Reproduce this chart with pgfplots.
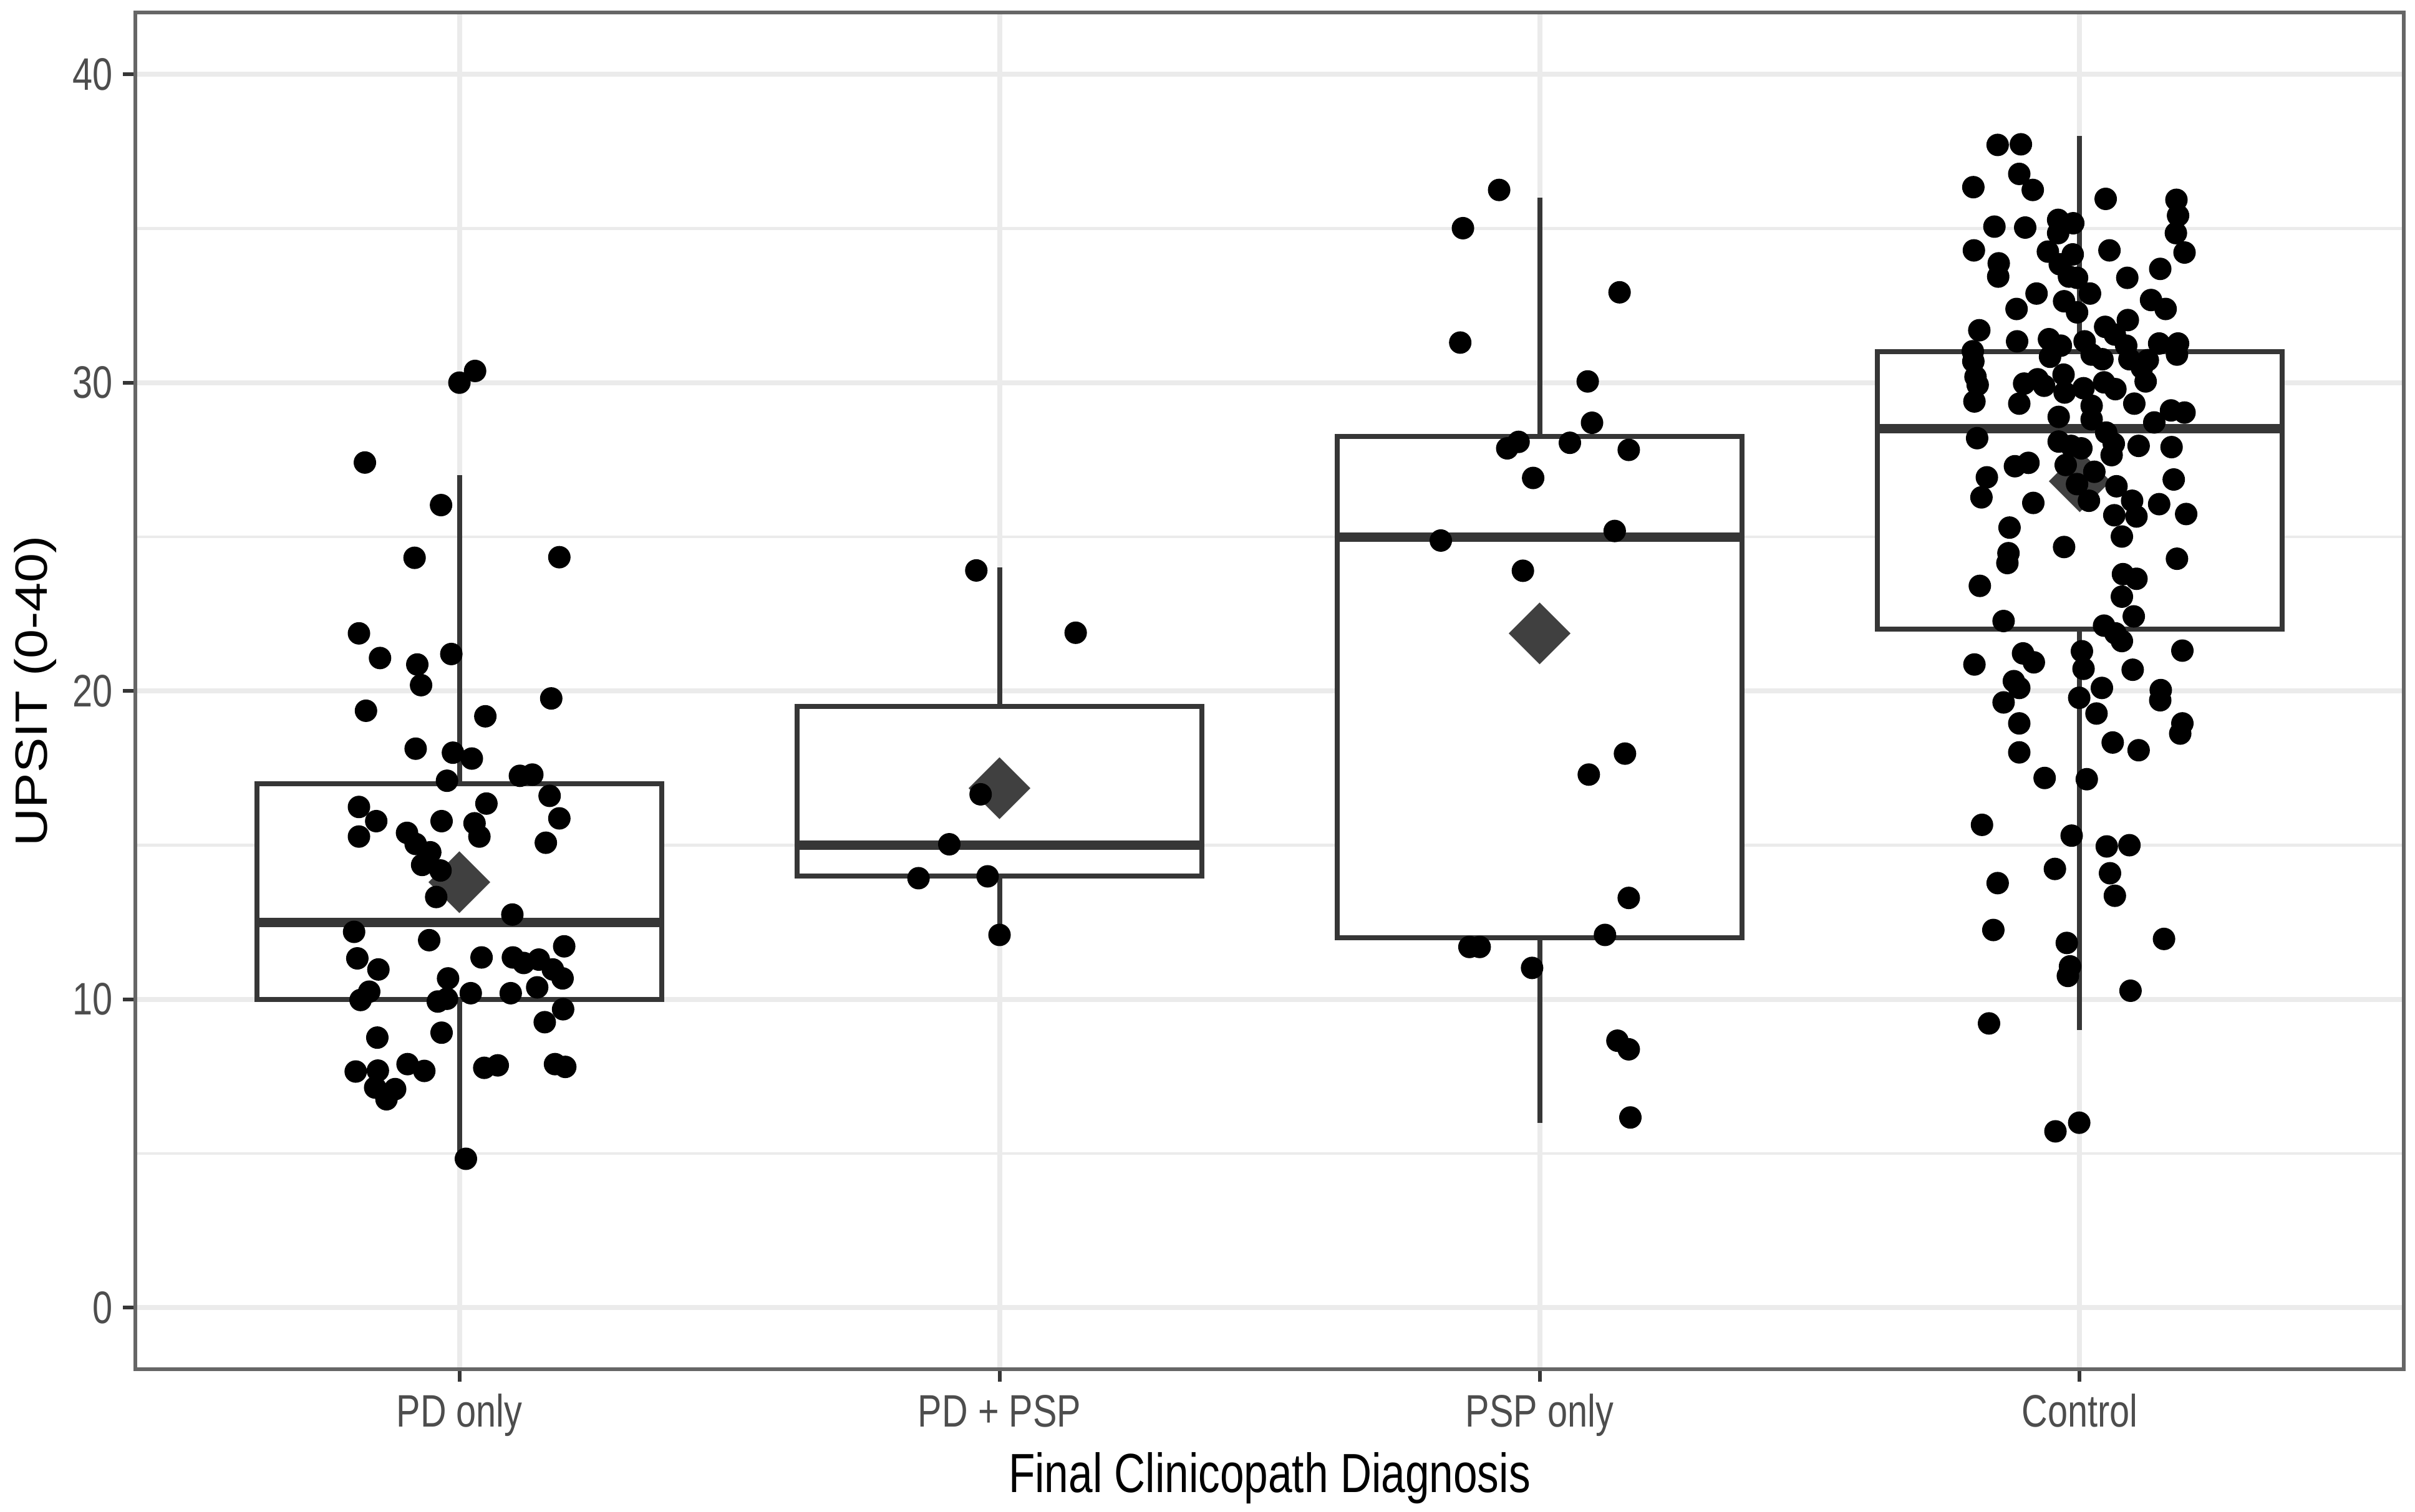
\documentclass[border=0pt]{standalone}
\usepackage{fontspec}
\setmainfont{Liberation Sans}
\newfontfamily\tickfont{Liberation Sans}[FakeStretch=0.79]
\newfontfamily\titlefont{Liberation Sans}[FakeStretch=0.785]
\usepackage{pgfplots}
\usepackage{pgfplotstable}
\pgfplotsset{compat=1.18}
\definecolor{gridc}{HTML}{EBEBEB}
\definecolor{borderc}{HTML}{666666}
\definecolor{boxc}{HTML}{363636}
\definecolor{tickc}{HTML}{4D4D4D}
\definecolor{meanc}{HTML}{404040}

\pgfplotstableread{
x y
1.029 30.38
1.000 30.00
0.825 27.41
0.966 26.03
0.917 24.32
1.185 24.34
0.814 21.87
0.853 21.07
0.922 20.86
0.929 20.19
0.985 21.20
0.827 19.36
1.170 19.76
1.048 19.18
0.919 18.13
0.988 18.00
1.023 17.81
0.977 17.09
1.112 17.25
1.135 17.29
1.167 16.60
1.185 15.87
1.160 15.08
0.814 16.24
0.846 15.78
0.814 15.28
0.903 15.40
0.919 15.04
0.946 14.77
0.931 14.36
0.965 14.18
0.957 13.32
0.967 15.78
1.050 16.35
1.028 15.71
1.037 15.28
1.098 12.75
0.805 12.19
0.944 11.92
0.811 11.33
0.850 10.97
1.041 11.36
1.099 11.36
1.119 11.18
1.147 11.29
1.173 10.97
1.194 11.72
1.191 10.68
1.144 10.39
0.979 10.68
1.021 10.20
1.095 10.20
0.817 9.98
0.833 10.25
0.960 9.93
0.977 10.02
1.192 9.68
1.158 9.26
0.848 8.76
0.967 8.92
0.808 7.66
0.849 7.69
0.904 7.90
0.935 7.68
0.844 7.14
0.881 7.09
0.865 6.76
1.046 7.78
1.071 7.86
1.177 7.90
1.196 7.81
1.012 4.83
}\pdonly

\pgfplotstableread{
x y
1.957 23.91
2.141 21.89
1.965 16.65
1.907 15.03
1.850 13.93
1.978 13.99
2.000 12.09
}\pdpsp

\pgfplotstableread{
x y
2.925 36.25
2.858 35.01
3.148 32.93
2.853 31.30
3.089 30.04
3.097 28.70
2.940 27.87
2.961 28.08
3.056 28.05
3.165 27.82
2.988 26.91
2.817 24.88
3.139 25.19
2.969 23.90
3.158 17.97
3.091 17.29
3.165 13.29
3.121 12.09
2.870 11.70
2.889 11.70
2.986 11.02
3.144 8.66
3.165 8.38
3.168 6.17
}\psponly

\pgfplotstableread{
x y
3.848 37.71
3.891 37.73
3.803 36.34
3.888 36.77
3.913 36.25
4.048 35.96
4.179 35.93
4.182 35.42
4.178 34.85
4.194 34.22
3.842 35.06
3.899 35.03
3.960 35.28
3.988 35.17
3.960 34.85
3.804 34.29
4.055 34.29
3.941 34.25
3.963 33.84
3.987 34.16
3.980 33.44
3.995 33.40
3.850 33.87
3.849 33.44
4.149 33.69
4.088 33.40
3.920 32.89
4.019 32.89
3.971 32.64
3.995 32.28
4.132 32.68
4.159 32.39
3.883 32.39
4.089 32.03
4.047 31.81
4.065 31.56
3.814 31.70
3.884 31.34
3.943 31.41
3.965 31.20
3.945 30.84
3.802 31.02
3.803 30.69
4.009 31.34
4.022 30.91
4.042 30.76
4.086 31.20
4.092 30.76
4.115 30.48
4.147 31.27
4.182 31.27
4.180 30.91
4.126 30.73
4.122 30.04
3.807 30.19
3.811 29.93
3.805 29.39
3.897 29.97
3.922 30.11
3.934 29.90
3.888 29.32
3.970 30.26
3.972 29.68
4.007 29.82
4.022 29.25
4.022 28.81
4.045 30.01
4.066 29.79
4.101 29.32
3.961 28.89
4.169 29.10
4.194 29.03
4.138 28.71
3.810 28.20
3.961 28.09
3.984 27.95
4.003 27.87
4.049 28.38
4.063 28.02
4.109 27.95
4.170 27.91
4.059 27.65
3.880 27.29
3.905 27.40
3.828 26.93
3.818 26.28
3.914 26.10
3.974 27.33
3.995 26.71
4.027 27.11
4.017 26.17
4.068 26.64
4.097 26.17
4.105 25.66
4.174 26.86
4.147 26.06
4.197 25.74
4.064 25.70
3.870 25.30
4.078 25.01
3.971 24.67
3.868 24.47
3.866 24.15
4.180 24.29
4.080 23.79
4.105 23.64
4.078 23.06
3.815 23.41
4.100 22.42
3.859 22.27
4.045 22.12
4.066 21.87
4.078 21.62
4.190 21.31
3.805 20.86
3.895 21.22
3.915 20.93
4.004 21.29
4.007 20.72
4.098 20.69
3.878 20.32
3.888 20.10
4.041 20.10
4.150 20.03
4.149 19.70
3.859 19.63
3.999 19.78
4.031 19.27
3.888 18.95
4.190 18.95
4.186 18.62
4.061 18.33
4.109 18.08
3.888 18.01
3.935 17.18
4.013 17.14
3.819 15.66
3.985 15.31
4.050 14.96
4.092 15.00
3.954 14.23
4.056 14.09
3.848 13.77
4.065 13.36
3.840 12.25
4.156 11.96
3.976 11.83
3.982 11.07
3.978 10.76
4.094 10.28
3.832 9.22
3.999 6.00
3.955 5.72
}\control

\begin{document}
\begin{tikzpicture}
\useasboundingbox (0,0) rectangle (387.2pt,242.5pt);
\begin{axis}[
  at={(21.7pt,22.87pt)}, anchor=south west,
  scale only axis, width=363.7pt, height=217.6pt,
  xmin=0.4, xmax=4.6, ymin=-2, ymax=42,
  xtick={1,2,3,4},
  xticklabels={PD only, PD + PSP, PSP only, Control},
  ytick={0,10,20,30,40},
  minor ytick={5,15,25,35},
  grid=both,
  major grid style={line width=0.8pt, draw=gridc},
  minor grid style={line width=0.45pt, draw=gridc},
  axis line style={line width=0.6pt, draw=borderc},
  tick align=outside, tick pos=left,
  major tick length=2pt, minor tick length=0pt,
  major tick style={line width=0.6pt, draw=boxc},
  /pgf/number format/assume math mode=true,
  xticklabel style={font=\tickfont\fontsize{7.3}{8.8}\selectfont, text=tickc, anchor=base, inner sep=0pt, yshift=-7.2pt},
  yticklabel style={font=\tickfont\fontsize{7.3}{8.8}\selectfont, text=tickc, anchor=east, inner sep=0pt, xshift=-1.45pt},
  xlabel={Final Clinicopath Diagnosis},
  ylabel={UPSIT (0-40)},
  xlabel style={font=\titlefont\fontsize{8.84}{10.6}\selectfont, at={(axis description cs:0.5,-0.0905)}, anchor=base, inner sep=0pt},
  ylabel style={font=\fontsize{8.45}{10.1}\selectfont, at={(axis description cs:-0.0441,0.5)}, anchor=center, inner sep=0pt, yscale=0.86},
  boxdraw/.style={draw=boxc, line width=0.8pt, fill=white, line join=miter},
  whisk/.style={draw=boxc, line width=0.8pt},
  med/.style={draw=boxc, line width=1.5pt},
]
% PD only
\addplot[whisk] coordinates {(1,17) (1,27)};
\addplot[whisk] coordinates {(1,10) (1,5)};
\addplot[boxdraw] coordinates {(0.625,10) (1.375,10) (1.375,17) (0.625,17)} -- cycle;
\addplot[med] coordinates {(0.625,12.5) (1.375,12.5)};
% PD + PSP
\addplot[whisk] coordinates {(2,19.5) (2,24)};
\addplot[whisk] coordinates {(2,14) (2,12)};
\addplot[boxdraw] coordinates {(1.625,14) (2.375,14) (2.375,19.5) (1.625,19.5)} -- cycle;
\addplot[med] coordinates {(1.625,15) (2.375,15)};
% PSP only
\addplot[whisk] coordinates {(3,28.25) (3,36)};
\addplot[whisk] coordinates {(3,12) (3,6)};
\addplot[boxdraw] coordinates {(2.625,12) (3.375,12) (3.375,28.25) (2.625,28.25)} -- cycle;
\addplot[med] coordinates {(2.625,25) (3.375,25)};
% Control
\addplot[whisk] coordinates {(4,31) (4,38)};
\addplot[whisk] coordinates {(4,22) (4,9)};
\addplot[boxdraw] coordinates {(3.625,22) (4.375,22) (4.375,31) (3.625,31)} -- cycle;
\addplot[med] coordinates {(3.625,28.5) (4.375,28.5)};
% means
\addplot[only marks, mark=square*, mark size=3.3pt, color=meanc, mark options={rotate=45}] coordinates {(1,13.8) (2,16.85) (3,21.87) (4,26.8)};
% jittered points
\addplot[only marks, mark=*, mark size=1.6pt, black] table[x=x,y=y] {\pdonly};
\addplot[only marks, mark=*, mark size=1.6pt, black] table[x=x,y=y] {\pdpsp};
\addplot[only marks, mark=*, mark size=1.6pt, black] table[x=x,y=y] {\psponly};
\addplot[only marks, mark=*, mark size=1.6pt, black] table[x=x,y=y] {\control};
\end{axis}
\end{tikzpicture}
\end{document}
